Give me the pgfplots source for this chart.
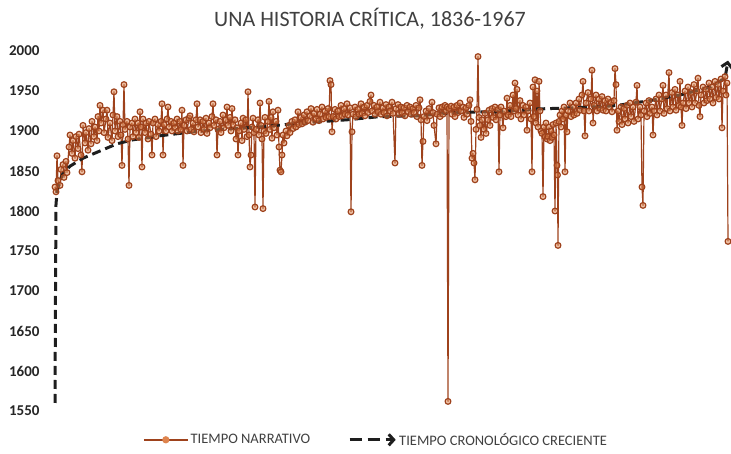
\documentclass[border=0pt]{standalone}
\usepackage{fontspec}
\setmainfont{Carlito}
\usepackage{pgfplots}
\pgfplotsset{compat=1.18}
\usetikzlibrary{arrows.meta}
\definecolor{narr}{RGB}{158,66,28}
\definecolor{narrm}{RGB}{222,132,78}
\definecolor{chron}{RGB}{30,30,30}
\definecolor{txt}{RGB}{64,64,64}
\begin{document}
\begin{tikzpicture}[x=1pt,y=1pt]
\useasboundingbox (0,0) rectangle (731,454);
\begin{axis}[
 at={(55pt,43pt)}, anchor=south west,
 scale only axis, width=673pt, height=360pt,
 xmin=55, xmax=728, ymin=1550, ymax=2000,
 clip=false,
 axis line style={draw=none},
 xtick=\empty,
 ytick={1550,1600,...,2000},
 major tick length=0pt,
 yticklabel style={font=\fontsize{15}{18}\selectfont\bfseries, text=black!85, xshift=-12pt},
 /pgf/number format/assume math mode=true,
 /pgf/number format/1000 sep={},
 legend columns=2,
 legend style={draw=none, fill=none, at={(0.477,-0.08)}, anchor=center,
   font=\fontsize{14.5}{17}\selectfont, text=txt,
   /tikz/every even column/.append style={column sep=36pt}},
]
\addplot[narr, line width=1.2pt, line join=round, mark=*, mark size=2.9pt,
  mark options={draw=none, fill=narrm, fill opacity=0.5},
  legend image code/.code={\draw[narr, line width=1.5pt] (0pt,0pt) -- (44pt,0pt); \fill[narrm] (22pt,0pt) circle (3pt);}]
coordinates {
(55,1830)(56,1824)(57,1869)(58,1838)(60,1832)(61,1852)(63,1858)(64,1842)(66,1862)(67,1848)(69,1880)(70,1895)(72,1872)(73,1888)(75,1866)(76,1893)(78,1878)(79,1896)(81,1870)(82,1849)(83,1907)(85,1885)(86,1898)(88,1876)(89,1903)(91,1884)(92,1912)(94,1893)(95,1905)(97,1888)(98,1918)(99,1900)(100,1932)(101,1910)(103,1926)(104,1898)(106,1915)(107,1926)(108,1892)(110,1910)(112,1888)(113,1920)(114,1949)(115,1900)(117,1918)(118,1893)(120,1912)(121,1895)(122,1857)(123,1908)(124,1958)(125,1902)(127,1912)(128,1890)(129,1832)(130,1905)(132,1910)(133,1893)(135,1915)(136,1898)(138,1910)(139,1892)(140,1924)(141,1905)(142,1855)(143,1915)(145,1898)(146,1910)(148,1890)(149,1912)(151,1896)(152,1870)(153,1910)(155,1915)(156,1893)(158,1908)(159,1900)(161,1912)(162,1934)(163,1870)(164,1908)(166,1900)(167,1915)(168,1930)(169,1905)(171,1912)(172,1900)(174,1910)(175,1904)(177,1915)(178,1900)(180,1912)(181,1902)(182,1926)(183,1857)(184,1907)(186,1914)(187,1900)(189,1916)(190,1919)(191,1902)(193,1910)(194,1899)(196,1914)(197,1934)(198,1905)(200,1914)(201,1898)(203,1912)(204,1902)(206,1916)(207,1897)(209,1910)(210,1904)(212,1918)(213,1934)(214,1907)(216,1914)(217,1870)(218,1902)(220,1912)(221,1898)(223,1920)(224,1904)(226,1914)(227,1930)(228,1907)(230,1917)(231,1900)(232,1928)(233,1908)(235,1914)(236,1890)(237,1904)(238,1870)(239,1900)(241,1910)(242,1888)(243,1916)(244,1902)(246,1914)(247,1893)(248,1949)(249,1895)(250,1855)(251,1870)(252,1905)(253,1916)(254,1898)(255,1805)(256,1902)(258,1914)(259,1895)(260,1935)(261,1907)(262,1890)(263,1803)(264,1900)(265,1917)(266,1897)(268,1912)(269,1937)(270,1902)(271,1917)(272,1891)(273,1924)(274,1904)(276,1912)(277,1895)(278,1926)(279,1880)(280,1851)(281,1849)(282,1870)(283,1895)(284,1885)(286,1900)(287,1894)(289,1907)(290,1898)(292,1912)(293,1903)(295,1914)(296,1905)(298,1924)(299,1908)(301,1917)(302,1909)(304,1920)(305,1911)(307,1924)(308,1913)(310,1919)(311,1928)(313,1911)(314,1922)(316,1915)(317,1927)(319,1913)(320,1921)(322,1930)(323,1915)(325,1925)(326,1917)(328,1928)(329,1918)(330,1963)(331,1958)(332,1899)(333,1918)(335,1927)(336,1915)(338,1925)(339,1918)(341,1932)(342,1919)(344,1928)(345,1921)(347,1934)(348,1920)(350,1929)(351,1799)(352,1899)(353,1921)(355,1930)(356,1918)(358,1927)(359,1921)(361,1934)(362,1922)(364,1930)(365,1919)(367,1932)(368,1923)(370,1937)(371,1945)(372,1925)(374,1932)(375,1921)(377,1930)(378,1924)(380,1936)(381,1921)(383,1929)(384,1923)(386,1933)(387,1919)(389,1930)(390,1925)(392,1936)(393,1922)(395,1860)(396,1928)(398,1933)(399,1921)(401,1930)(402,1923)(404,1929)(405,1919)(407,1932)(408,1924)(410,1930)(411,1921)(413,1928)(414,1923)(416,1932)(417,1918)(419,1929)(420,1939)(421,1914)(422,1857)(423,1887)(424,1918)(426,1925)(427,1913)(429,1928)(430,1919)(432,1936)(433,1923)(434,1907)(436,1884)(437,1921)(439,1929)(440,1918)(442,1930)(443,1921)(445,1932)(446,1925)(447,1930)(448,1562)(449,1928)(451,1931)(452,1921)(454,1930)(455,1918)(457,1932)(458,1923)(460,1935)(461,1925)(463,1930)(464,1917)(466,1929)(467,1921)(469,1932)(470,1939)(471,1912)(472,1866)(473,1872)(474,1860)(475,1839)(476,1902)(477,1927)(478,1993)(479,1917)(480,1907)(481,1892)(482,1914)(484,1902)(485,1922)(486,1897)(488,1914)(489,1926)(490,1907)(492,1928)(493,1917)(495,1930)(496,1914)(498,1927)(499,1849)(500,1920)(501,1930)(503,1904)(504,1925)(506,1918)(507,1941)(508,1920)(510,1932)(511,1918)(513,1945)(514,1925)(515,1960)(516,1928)(517,1952)(518,1920)(520,1938)(521,1915)(523,1932)(524,1920)(526,1930)(527,1901)(528,1925)(530,1935)(531,1915)(532,1849)(533,1955)(534,1918)(535,1964)(536,1910)(537,1950)(538,1905)(539,1962)(540,1925)(541,1900)(542,1897)(543,1818)(544,1905)(545,1893)(546,1910)(547,1890)(548,1893)(549,1905)(550,1888)(551,1900)(552,1892)(553,1908)(554,1895)(555,1800)(556,1910)(557,1857)(557.5,1845)(558,1757)(559,1912)(560,1920)(561,1905)(562,1925)(563,1915)(564,1930)(565,1849)(566,1920)(567,1899)(568,1925)(570,1935)(571,1918)(573,1930)(574,1920)(576,1935)(577,1922)(579,1940)(580,1926)(582,1945)(583,1962)(584,1925)(585,1894)(586,1935)(588,1948)(589,1925)(591,1940)(592,1976)(593,1910)(594,1932)(596,1945)(597,1925)(599,1940)(600,1928)(602,1943)(603,1926)(605,1938)(606,1925)(608,1940)(609,1930)(611,1936)(612,1924)(614,1938)(615,1978)(616,1958)(617,1901)(618,1925)(619,1912)(621,1930)(622,1908)(624,1928)(625,1915)(627,1932)(628,1910)(630,1935)(631,1918)(633,1930)(634,1912)(636,1936)(637,1957)(638,1915)(640,1930)(641,1920)(642,1830)(643,1807)(644,1925)(646,1935)(647,1918)(649,1938)(650,1922)(652,1930)(653,1895)(654,1925)(656,1940)(657,1920)(659,1945)(660,1925)(662,1940)(663,1957)(664,1922)(666,1945)(667,1928)(669,1973)(670,1925)(672,1948)(673,1930)(675,1952)(676,1926)(678,1945)(679,1932)(680,1962)(681,1930)(682,1907)(683,1935)(685,1950)(686,1928)(688,1955)(689,1935)(691,1948)(692,1930)(694,1958)(695,1935)(697,1950)(698,1966)(699,1932)(700,1918)(701,1945)(703,1955)(704,1935)(706,1952)(707,1938)(709,1960)(710,1940)(712,1955)(713,1935)(715,1962)(716,1942)(718,1958)(719,1940)(721,1965)(722,1904)(723,1950)(725,1968)(726,1945)(727,1960)(728,1762)
};
\addlegendentry{TIEMPO NARRATIVO}
\addplot[chron, line width=3pt, dash pattern=on 9pt off 5pt, line join=round,
  -{Straight Barb[length=5pt,width=11pt]},
  legend image code/.code={\draw[chron, line width=3pt, dash pattern=on 12pt off 6pt, -{Straight Barb[length=5pt,width=11pt]}] (0pt,0pt) -- (46pt,0pt);}]
coordinates {
(55,1560)(55.5,1700)(56,1808)(57,1824)(60,1838)(63,1847)(70,1856)(83,1866)(100,1875)(117,1884)(133,1889)(160,1894)(193,1899)(227,1902.5)(260,1905)(280,1907.5)(313,1911)(347,1914)(380,1918)(417,1919)(450,1922.5)(483,1924)(500,1924)(537,1927.5)(573,1929)(603,1930.5)(620,1932.5)(650,1938)(680,1945)(710,1955)(725,1966)(728,1988)
};
\addlegendentry{TIEMPO CRONOLÓGICO CRECIENTE}
\end{axis}
\node[anchor=base, font=\fontsize{22}{26}\selectfont, text=txt] at (370,427) {UNA HISTORIA CRÍTICA, 1836-1967};
\end{tikzpicture}
\end{document}
